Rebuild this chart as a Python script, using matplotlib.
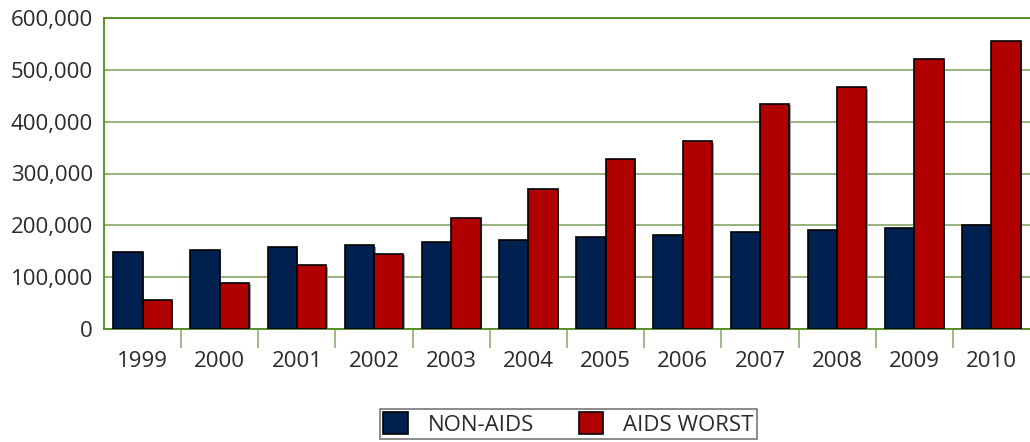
import matplotlib
matplotlib.use("Agg")
import matplotlib.pyplot as plt
from matplotlib.ticker import FuncFormatter, FixedLocator
import numpy as np

years = ["1999", "2000", "2001", "2002", "2003", "2004", "2005", "2006", "2007", "2008", "2009", "2010"]
non_aids = [149000, 153000, 158000, 162000, 168000, 172000, 177000, 181000, 187000, 191000, 195000, 200000]
aids_worst = [56000, 89000, 123000, 145000, 214000, 270000, 328000, 362000, 435000, 466000, 520000, 555000]
series_names = ["NON-AIDS", "AIDS WORST"]

plt.rcParams['font.family'] = ['Open Sans', 'DejaVu Sans']

fig = plt.figure(figsize=(10.30, 4.42), dpi=100)
ax = fig.add_axes([104/1030, 1-329/442, 1-104/1030, (329-18)/442])

x = np.arange(len(years))
w = 0.38
navy = "#00204f"
red = "#b00000"
grid_c = "#8fae72"
axis_c = "#4e8a1e"
txt_c = "#2a2a2a"
fs = 16

# shadows
ax.bar(x - w/2 + 0.02, non_aids, w, bottom=-3000, color="#999999", zorder=2, linewidth=0)
ax.bar(x + w/2 + 0.02, aids_worst, w, bottom=-3000, color="#999999", zorder=2, linewidth=0)
b1 = ax.bar(x - w/2, non_aids, w, color=navy, edgecolor="black", linewidth=1.2, zorder=3, label=series_names[0])
b2 = ax.bar(x + w/2, aids_worst, w, color=red, edgecolor="black", linewidth=1.2, zorder=3, label=series_names[1])

ax.set_xlim(-0.5, len(years) - 0.5)
ax.set_ylim(0, 600000)
ax.yaxis.set_major_locator(FixedLocator(np.arange(0, 600001, 100000)))
ax.yaxis.set_major_formatter(FuncFormatter(lambda v, p: f"{int(v):,}"))
ax.grid(axis='y', color=grid_c, linewidth=1.3, zorder=1)
ax.set_axisbelow(True)

ax.set_xticks(x)
ax.set_xticklabels(years)
ax.tick_params(axis='x', length=0, pad=16, labelsize=fs, colors=txt_c)
ax.tick_params(axis='y', length=0, pad=8, labelsize=fs, colors=txt_c)
# separator ticks between categories
ax.set_xticks(np.arange(0.5, len(years) - 0.5, 1), minor=True)
ax.tick_params(axis='x', which='minor', length=14, width=1.2, color=grid_c, direction='out')

ax.spines['right'].set_visible(False)
for s in ['top', 'left', 'bottom']:
    ax.spines[s].set_color(axis_c)
    ax.spines[s].set_linewidth(1.3)

leg = fig.legend(handles=[b1, b2], labels=series_names, loc='lower center',
                 bbox_to_anchor=(0.552, 0.002), ncol=2, frameon=True, fancybox=False,
                 edgecolor="#555555", fontsize=fs, handlelength=1.1, handleheight=1.1,
                 columnspacing=2.0, borderpad=0.15, handletextpad=0.9, borderaxespad=0.1)
leg.get_frame().set_linewidth(1.2)
for t in leg.get_texts():
    t.set_color(txt_c)

fig.savefig("out.png", dpi=100)
